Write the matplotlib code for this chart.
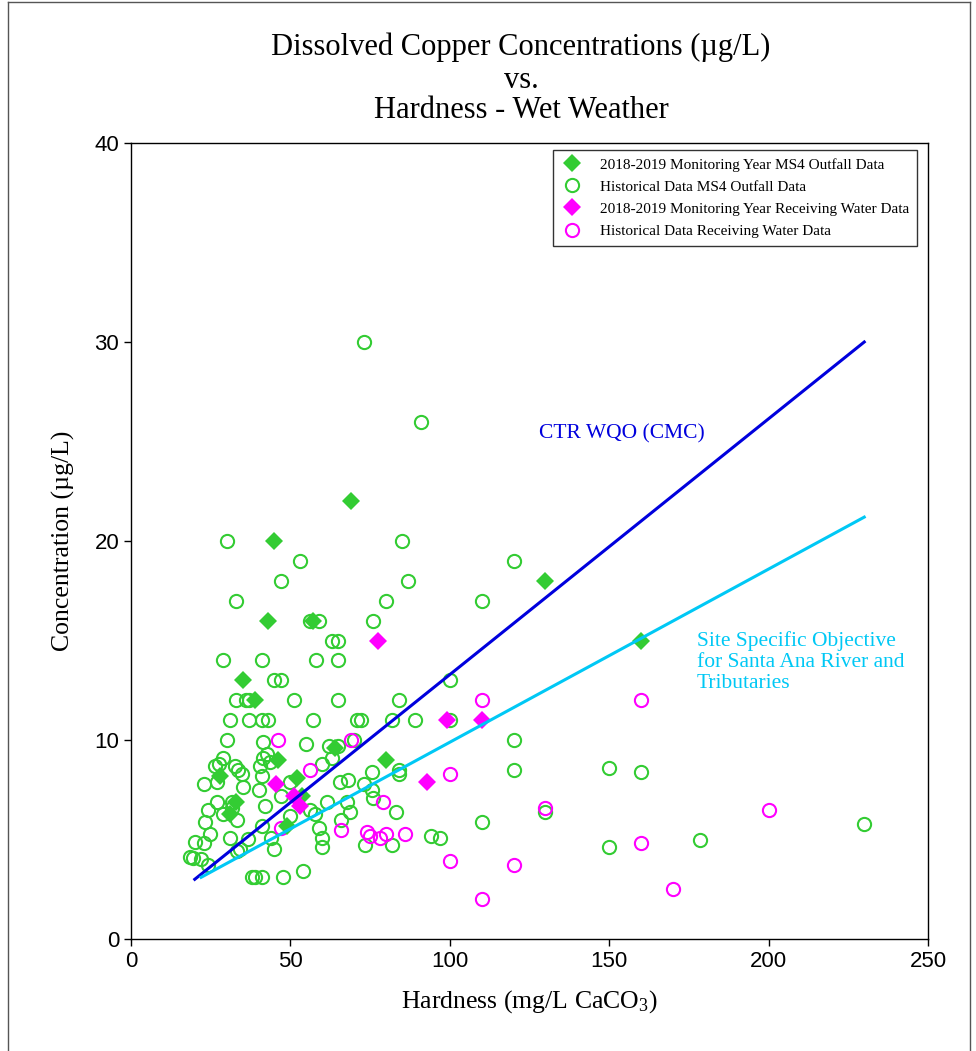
import matplotlib
matplotlib.use("Agg")
import matplotlib.pyplot as plt
from matplotlib.lines import Line2D

plt.rcParams['mathtext.fontset'] = 'custom'
plt.rcParams['mathtext.rm'] = 'Liberation Serif'
plt.rcParams['mathtext.it'] = 'Liberation Serif:italic'

SERIF = 'Liberation Serif'
SANS = 'Liberation Sans'

# 2018-2019 monitoring year, MS4 outfall (hardness mg/L, copper ug/L)
ms4_new_h = [45, 69, 130, 160, 43, 57, 35, 39, 64, 80, 46, 28, 52, 53.5, 33, 31, 49]
ms4_new_c = [20, 22, 18, 15, 16, 16, 13, 12, 9.6, 9.0, 9.0, 8.2, 8.1, 7.2, 6.9, 6.3, 5.7]

# Historical MS4 outfall data
ms4_hist_h = [73, 91, 30, 85, 53, 120, 47, 87, 33, 80, 110, 56, 59, 76, 63, 65,
              29, 41, 58, 65, 45, 47, 100, 33, 36, 37, 51, 65, 84,
              31, 37, 41, 43, 57, 71, 72, 82, 89, 100,
              30, 41.5, 55, 62, 65, 70, 120,
              29, 27.7, 26.3, 32.6, 33.7, 34.7, 40.5, 41.5, 42.6, 43.6, 41, 60, 63,
              75.5, 84, 84.2, 120, 150, 160,
              23, 27, 35, 40, 47, 50, 65.5, 68, 73, 75.5, 76,
              27, 24, 31.6, 31.6, 29, 33.2, 42, 23.2, 61.4, 67.7, 68.7, 83, 50, 57.7, 56, 130,
              66, 59, 24.8, 20, 22.9, 31, 36.8, 41, 44, 60, 60, 73.4, 82, 94, 97, 110, 150, 178.5, 230,
              18.5, 19.5, 21.9, 24.2, 33.2, 34.2, 45,
              37.9, 38.9, 41, 47.8, 54]
ms4_hist_c = [30, 26, 20, 20, 19, 19, 18, 18, 17, 17, 17, 16, 16, 16, 15, 15,
              14, 14, 14, 14, 13, 13, 13, 12, 12, 12, 12, 12, 12,
              11, 11, 11, 11, 11, 11, 11, 11, 11, 11,
              10, 9.9, 9.8, 9.7, 9.7, 10, 10,
              9.1, 8.8, 8.7, 8.7, 8.5, 8.3, 8.7, 9.1, 9.3, 8.9, 8.2, 8.8, 9.1,
              8.4, 8.5, 8.3, 8.5, 8.6, 8.4,
              7.8, 7.9, 7.65, 7.5, 7.2, 7.9, 7.9, 8.0, 7.8, 7.5, 7.1,
              6.9, 6.5, 6.9, 6.6, 6.3, 6.0, 6.7, 5.9, 6.9, 6.9, 6.4, 6.4, 6.2, 6.3, 6.5, 6.4,
              6.0, 5.6, 5.3, 4.85, 4.8, 5.1, 5.05, 5.7, 5.1, 5.1, 4.6, 4.7, 4.7, 5.2, 5.1, 5.9, 4.6, 5.0, 5.8,
              4.1, 4.05, 4.0, 3.7, 4.4, 4.5, 4.5,
              3.1, 3.1, 3.1, 3.1, 3.4]

# 2018-2019 monitoring year, receiving water
rw_new_h = [77.5, 99, 110, 93, 45.5, 51, 53]
rw_new_c = [15, 11, 11, 7.9, 7.8, 7.2, 6.7]

# Historical receiving water data
rw_hist_h = [46, 69, 56, 110, 160, 100, 79, 66, 47, 74, 75, 78, 80, 86,
             100, 120, 110, 130, 160, 170, 200]
rw_hist_c = [10, 10, 8.5, 12, 12, 8.3, 6.9, 5.5, 5.6, 5.4, 5.2, 5.1, 5.3, 5.3,
             3.9, 3.7, 2.0, 6.6, 4.8, 2.5, 6.5]

# Objective lines (hardness, copper)
cmc_h = [20, 230]
cmc_c = [3.0, 30.0]
sso_h = [22, 230]
sso_c = [3.1, 21.2]

x_ticks = [0, 50, 100, 150, 200, 250]
y_ticks = [0, 10, 20, 30, 40]

GREEN = '#33CC33'
MAGENTA = '#FF00FF'
BLUE = '#0000DD'
CYAN = '#00C8F5'

fig = plt.figure(figsize=(9.76, 10.51), dpi=100)
ax = fig.add_axes([131 / 976, 1 - 939 / 1051, (928 - 131) / 976, (939 - 143) / 1051])

ax.plot(cmc_h, cmc_c, color=BLUE, lw=2.2, zorder=4)
ax.plot(sso_h, sso_c, color=CYAN, lw=2.2, zorder=4)

circ = dict(linestyle='none', marker='o', markersize=9.5, markerfacecolor='none', markeredgewidth=1.5)
diam = dict(linestyle='none', marker='D', markersize=9.5, markeredgewidth=0)

h1, = ax.plot(ms4_new_h, ms4_new_c, color=GREEN, label='2018-2019 Monitoring Year MS4 Outfall Data', zorder=3, **diam)
h2, = ax.plot(ms4_hist_h, ms4_hist_c, color=GREEN, markeredgecolor=GREEN, label='Historical Data MS4 Outfall Data', zorder=2, **circ)
h3, = ax.plot(rw_new_h, rw_new_c, color=MAGENTA, label='2018-2019 Monitoring Year Receiving Water Data', zorder=3, **diam)
h4, = ax.plot(rw_hist_h, rw_hist_c, color=MAGENTA, markeredgecolor=MAGENTA, label='Historical Data Receiving Water Data', zorder=2, **circ)

ax.set_xlim(0, 250)
ax.set_ylim(0, 40)
ax.set_xticks(x_ticks)
ax.set_yticks(y_ticks)
ax.tick_params(direction='out', length=5, width=1, labelsize=16)
for lab in ax.get_xticklabels() + ax.get_yticklabels():
    lab.set_fontfamily(SANS)
for sp in ax.spines.values():
    sp.set_linewidth(1.0)

ax.set_xlabel('Hardness (mg/L CaCO$_\\mathrm{3}$)', fontsize=18.5, family=SERIF, labelpad=12)
ax.set_ylabel('Concentration (µg/L)', fontsize=18.5, family=SERIF, labelpad=14)

leg = ax.legend(handles=[h1, h2, h3, h4], loc='upper right', bbox_to_anchor=(0.986, 0.991),
                prop={'family': SERIF, 'size': 11}, frameon=True, fancybox=False,
                edgecolor='black', handletextpad=1.0, labelspacing=0.55, borderpad=0.5,
                handlelength=1.6, borderaxespad=0)
leg.get_frame().set_linewidth(1.0)

ax.text(128, 25.4, 'CTR WQO (CMC)', color=BLUE, fontsize=15.5, family=SERIF, va='center', ha='left')
ax.text(177.5, 13.9, 'Site Specific Objective\nfor Santa Ana River and\nTributaries', color=CYAN,
        fontsize=15.5, family=SERIF, va='center', ha='left', linespacing=1.15)

fig.text(0.534, 1 - 47 / 1051, 'Dissolved Copper Concentrations (µg/L)', ha='center', va='center', fontsize=22, family=SERIF)
fig.text(0.534, 1 - 80 / 1051, 'vs.', ha='center', va='center', fontsize=22, family=SERIF)
fig.text(0.534, 1 - 111 / 1051, 'Hardness - Wet Weather', ha='center', va='center', fontsize=22, family=SERIF)

# Thin page frame
fx0, fx1, fy1 = 8 / 976, 970 / 976, 1 - 2 / 1051
for xs, ys in [([fx0, fx1], [fy1, fy1]), ([fx0, fx0], [0, fy1]), ([fx1, fx1], [0, fy1])]:
    fig.add_artist(Line2D(xs, ys, transform=fig.transFigure, color='#555555', lw=1))

fig.savefig('out.png', dpi=100)
